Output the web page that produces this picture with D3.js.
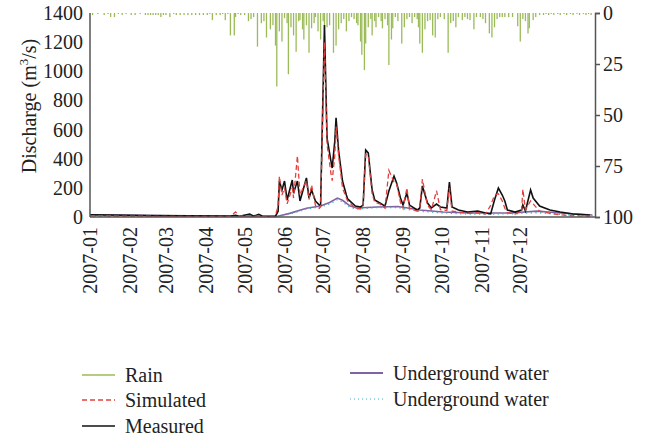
<!DOCTYPE html>
<html>
<head>
<meta charset="utf-8">
<script src="https://cdn.jsdelivr.net/npm/d3@7"></script>
<style>
  body { margin: 0; background: #fff; }
  text { font-family: "Liberation Serif", "DejaVu Serif", serif; fill: #222; }
</style>
</head>
<body>
<script>
// day index (0 = 2007-01-01) and values
const monthLabels = ["2007-01","2007-02","2007-03","2007-04","2007-05","2007-06",
                     "2007-07","2007-08","2007-09","2007-10","2007-11","2007-12"]
const monthDays = [0,31,59,90,120,151,181,212,243,273,304,334]
const leftTicks = [0,200,400,600,800,1000,1200,1400]
const rightTicks = [0,25,50,75,100]

// rain, mm (right axis, bars hang from the top)
const rain = [[2,1],[6,0.5],[11,1],[14,0.5],[16,2],[19,2],[22,0.5],[25,1],[28,0.5],[32,1],[35,1],
  [39,0.5],[43,1],[45,1],[47,1],[49,1],[51,1],[53,1],[55,2],[57,1],[59,1],[62,2],[65,0.5],
  [67,1],[70,1],[73,1],[76,1],[79,1],[82,1],[85,1],[88,1],[91,1],[93,0.5],[95,3.5],[98,1],
  [101,1],[103,0.5],[105,3.5],[107,0.5],[109,11],[112,11],[113,2],[115,0.5],[117,1],[120,1],
  [123,4],[125,3],[127,2],[130,16.5],[133,5],[135,4],[137,12],[140,8],[142,6],[144,16],[145,36],
  [147,9],[149,14],[151,2.5],[153,5],[154,30],[156,7],[158,11],[160,19],[162,4],[163,3.5],
  [165,8],[166,13],[168,6],[170,19.5],[172,7.5],[174,5],[175,2],[177,9],[179,13],[181,4],
  [182,8],[184,7],[186,6],[189,19.5],[191,16],[193,8],[195,5],[197,3],[199,9],[201,4],[203,2],
  [205,3],[207,5],[208,6],[210,14],[211,20.5],[213,28],[214,15],[216,7],[218,3],[219,11],
  [221,4],[222,7],[224,2],[226,4],[227,7.5],[229,3],[231,6],[232,25.5],[234,13],[235,7.5],
  [237,2],[239,4],[242,15],[244,7],[246,3],[248,2],[250,5],[252,2],[254,3],[255,7],[256,15],
  [258,19.5],[260,8],[262,4],[264,3.5],[266,11],[268,12],[270,3],[272,2],[275,3],[278,19.5],
  [280,5],[282,4],[284,7],[286,2],[289,3.5],[291,2],[293,3],[295,3.5],[298,8],[300,2],[303,2],
  [305,3],[307,5],[310,10],[312,12],[314,7],[316,3],[318,2],[320,2],[322,2],[325,2],[328,2],
  [332,6.5],[334,14],[336,3],[338,4],[340,10],[341,7.5],[344,3.5],[346,2],[349,1],[352,1],
  [354,0.5],[356,1],[358,0.5],[360,1],[363,0.5],[365,1],[368,0.5],[370,1],[373,0.5],[375,1],
  [378,0.5],[380,1],[383,0.5],[385,1],[387,0.5],[389,1]]

// discharge, m3/s
const measured = [[0,15],[47,10],[109,6],[113,12],[116,5],[124,20],[127,6],[131,18],[134,5],
  [144,6],[146,40],[147,247],[149,185],[151,247],[153,117],[157,254],[158,165],[161,247],
  [163,110],[168,268],[170,130],[172,185],[175,110],[178,82],[179,80],[182,1318],[184,542],
  [187,385],[188,336],[190,520],[191,680],[193,453],[196,247],[199,151],[200,124],[206,75],
  [210,69],[212,82],[214,460],[216,440],[219,185],[221,117],[225,96],[229,75],[232,178],
  [236,281],[238,233],[241,130],[243,82],[246,165],[248,82],[254,48],[256,62],[258,213],
  [262,96],[265,62],[269,89],[272,69],[277,62],[279,240],[281,69],[286,48],[293,34],[301,41],
  [307,27],[311,21],[314,117],[317,199],[320,151],[322,110],[324,48],[330,34],[335,48],
  [336,82],[338,41],[342,185],[344,130],[349,75],[357,48],[365,34],[375,21],[388,14]]

const simulated = [[0,8],[47,5],[109,4],[113,35],[116,5],[124,10],[127,4],[131,10],[134,4],
  [144,8],[146,80],[147,280],[149,150],[151,200],[153,90],[157,200],[158,130],[161,420],
  [163,150],[168,250],[170,120],[172,220],[175,80],[178,60],[179,70],[182,1200],[184,500],
  [187,300],[188,250],[190,420],[191,620],[193,420],[196,200],[199,130],[200,110],[206,60],
  [210,55],[212,70],[214,430],[216,420],[219,160],[221,100],[225,90],[229,60],[232,320],
  [236,240],[238,230],[241,100],[243,60],[246,200],[248,60],[254,40],[256,60],[258,260],
  [262,80],[265,50],[269,180],[272,50],[277,45],[279,200],[281,40],[286,35],[293,25],[301,30],
  [307,20],[311,80],[314,150],[317,160],[320,110],[322,60],[324,30],[330,20],[335,40],
  [336,190],[338,50],[342,110],[344,90],[349,40],[357,25],[365,15],[375,8],[388,5]]

const underground = [[0,15],[47,10],[85,6],[145,3],[155,25],[168,60],[179,75],[186,100],
  [192,130],[196,115],[202,75],[207,62],[223,69],[239,72],[248,60],[256,48],[274,34],
  [295,27],[326,27],[347,40],[365,27],[390,14]]

const undergroundDot = [[0,8],[47,6],[85,4],[145,2],[155,20],[168,55],[179,70],[186,90],
  [192,120],[196,105],[202,65],[207,55],[223,65],[239,65],[248,50],[256,40],[274,28],
  [295,20],[326,22],[347,30],[365,18],[390,8]]

const m = { left: 90, right: 595, top: 13, bottom: 217 }
const fs = 20

const svg = d3.select("body").append("svg")
    .attr("width", 645)
    .attr("height", 437)

const x = d3.scaleLinear().domain([0, 392]).range([m.left, m.right])
const y = d3.scaleLinear().domain([0, 1400]).range([m.bottom, m.top])
const yR = d3.scaleLinear().domain([0, 100]).range([m.top, m.bottom])

// rain bars
svg.append("g").selectAll("rect")
    .data(rain)
    .enter()
    .append("rect")
        .attr("x", d => x(d[0]) - 0.65)
        .attr("y", yR(0))
        .attr("width", 1.3)
        .attr("height", d => yR(d[1]) - yR(0))
        .attr("fill", "#9bbb59")

const line = d3.line().x(d => x(d[0])).y(d => y(d[1]))

svg.append("path").attr("d", line(underground))
    .attr("fill", "none").attr("stroke", "#8064a2").attr("stroke-width", 1.6)
svg.append("path").attr("d", line(undergroundDot))
    .attr("fill", "none").attr("stroke", "#4bacc6").attr("stroke-width", 1.5)
    .attr("stroke-dasharray", "1.2,3.5")
svg.append("path").attr("d", line(measured))
    .attr("fill", "none").attr("stroke", "#111").attr("stroke-width", 1.6)
svg.append("path").attr("d", line(simulated))
    .attr("fill", "none").attr("stroke", "#e0403c").attr("stroke-width", 1.3)
    .attr("stroke-dasharray", "5,3")

// axes
const axisColor = "#555"
svg.append("line").attr("x1", m.left).attr("x2", m.left).attr("y1", m.top).attr("y2", m.bottom)
    .attr("stroke", axisColor).attr("stroke-width", 1.5)
svg.append("line").attr("x1", m.left).attr("x2", m.right).attr("y1", m.bottom).attr("y2", m.bottom)
    .attr("stroke", axisColor).attr("stroke-width", 1.5)

svg.append("g").selectAll("text")
    .data(leftTicks)
    .enter()
    .append("text")
        .attr("x", m.left - 7)
        .attr("y", d => y(d))
        .attr("dy", "0.35em")
        .attr("text-anchor", "end")
        .attr("font-size", fs)
        .text(d => d)

const rightAxis = svg.append("g")
    .attr("transform", `translate(${m.right},0)`)
    .call(d3.axisRight(yR).tickValues(rightTicks).tickSize(5).tickPadding(3))
rightAxis.select(".domain").attr("stroke", axisColor).attr("stroke-width", 1.5)
rightAxis.selectAll(".tick line").attr("stroke", axisColor).attr("stroke-width", 1.5)
rightAxis.selectAll(".tick text")
    .attr("font-size", fs)
    .attr("font-family", "Liberation Serif, DejaVu Serif, serif")
    .attr("fill", "#222")

svg.append("g").selectAll("text")
    .data(monthDays)
    .enter()
    .append("text")
        .attr("transform", d => `translate(${x(d)},${m.bottom + 10}) rotate(-90)`)
        .attr("dy", "0.35em")
        .attr("text-anchor", "end")
        .attr("font-size", fs)
        .text((d, i) => monthLabels[i])

// y title
const title = svg.append("text")
    .attr("transform", "translate(36,106) rotate(-90)")
    .attr("text-anchor", "middle")
    .attr("font-size", fs)
title.append("tspan").text("Discharge (m")
title.append("tspan").attr("font-size", 13).attr("dy", -8).text("3")
title.append("tspan").attr("dy", 8).text("/s)")

// legend
const legend = [
    { label: "Rain", color: "#9bbb59", dash: null, w: 1.5, lx: 82, ly: 375 },
    { label: "Simulated", color: "#e0403c", dash: "5,3", w: 1.5, lx: 82, ly: 400 },
    { label: "Measured", color: "#111", dash: null, w: 1.5, lx: 82, ly: 426 },
    { label: "Underground water", color: "#8064a2", dash: null, w: 2, lx: 350, ly: 373 },
    { label: "Underground water", color: "#4bacc6", dash: "1,3", w: 1.2, lx: 350, ly: 399 }
]
const lg = svg.append("g").selectAll("g")
    .data(legend)
    .enter()
    .append("g")
        .attr("transform", d => `translate(${d.lx},${d.ly})`)
lg.append("line")
    .attr("x1", 0).attr("x2", 33).attr("y1", 0).attr("y2", 0)
    .attr("stroke", d => d.color)
    .attr("stroke-width", d => d.w)
    .attr("stroke-dasharray", d => d.dash)
lg.append("text")
    .attr("x", 43)
    .attr("dy", "0.35em")
    .attr("font-size", fs)
    .text(d => d.label)
</script>
</body>
</html>
